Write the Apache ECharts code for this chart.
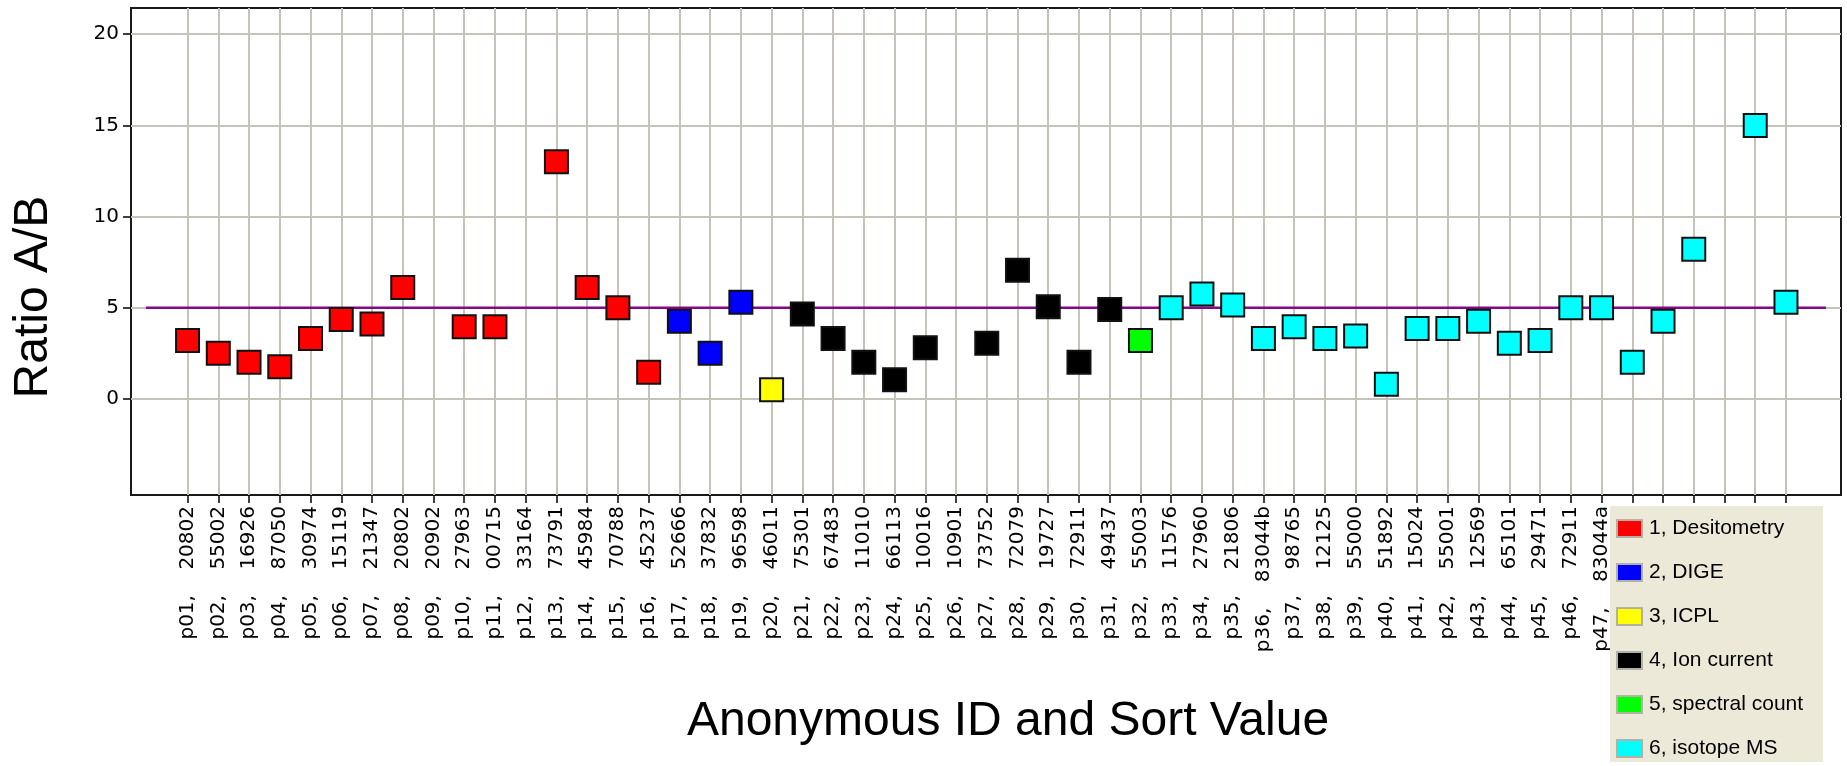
<!DOCTYPE html>
<html>
<head>
<meta charset="utf-8">
<script src="https://cdn.jsdelivr.net/npm/echarts@6/dist/echarts.min.js"></script>
<style>
  html, body { margin: 0; padding: 0; background: #fff; }
  #chart { width: 1847px; height: 766px; }
</style>
</head>
<body>
<div id="chart"></div>
<script>
// anonymous ids and their sort values (slots 48-53 have no visible label)
const ids = ['p01', 'p02', 'p03', 'p04', 'p05', 'p06', 'p07', 'p08', 'p09', 'p10',
  'p11', 'p12', 'p13', 'p14', 'p15', 'p16', 'p17', 'p18', 'p19', 'p20',
  'p21', 'p22', 'p23', 'p24', 'p25', 'p26', 'p27', 'p28', 'p29', 'p30',
  'p31', 'p32', 'p33', 'p34', 'p35', 'p36', 'p37', 'p38', 'p39', 'p40',
  'p41', 'p42', 'p43', 'p44', 'p45', 'p46', 'p47', '', '', '', '', '', '']
const sortValues = ['20802', '55002', '16926', '87050', '30974', '15119', '21347', '20802', '20902', '27963',
  '00715', '33164', '73791', '45984', '70788', '45237', '52666', '37832', '96598', '46011',
  '75301', '67483', '11010', '66113', '10016', '10901', '73752', '72079', '19727', '72911',
  '49437', '55003', '11576', '27960', '21806', '83044b', '98765', '12125', '55000', '51892',
  '15024', '55001', '12569', '65101', '29471', '72911', '83044a', '', '', '', '', '', '']

// ratio A/B per slot (null = no result)
const ratios = [3.2, 2.5, 2.0, 1.75, 3.3, 4.35, 4.1, 6.1, null, 3.95,
  3.95, null, 13.0, 6.1, 5.0, 1.45, 4.25, 2.5, 5.3, 0.5,
  4.65, 3.3, 2.0, 1.05, 2.8, null, 3.05, 7.05, 5.05, 2.0,
  4.9, 3.2, 5.0, 5.75, 5.15, 3.3, 3.95, 3.3, 3.45, 0.8,
  3.85, 3.85, 4.25, 3.05, 3.2, 5.0, 5.0, 2.0, 4.25, 8.2,
  null, 15.0, 5.3]
// method used for each slot (1..6)
const methodOf = [1, 1, 1, 1, 1, 1, 1, 1, 1, 1,
  1, 1, 1, 1, 1, 1, 2, 2, 2, 3,
  4, 4, 4, 4, 4, 4, 4, 4, 4, 4,
  4, 5, 6, 6, 6, 6, 6, 6, 6, 6,
  6, 6, 6, 6, 6, 6, 6, 6, 6, 6,
  6, 6, 6]

const methodNames = ['1, Desitometry', '2, DIGE', '3, ICPL', '4, Ion current', '5, spectral count', '6, isotope MS']
const methodColors = ['#ff0000', '#0000ff', '#ffff00', '#000000', '#00ff00', '#00ffff']

const yTicks = [0, 5, 10, 15, 20]
// reference line at ratio 5
const refLineX = [-0.35, 54.3]
const refLineY = 5

const slots = ids.map((_, i) => i + 1)
const catLabels = ids.map((id, i) => (id ? id + ',    ' + sortValues[i] : ''))

const myChart = echarts.init(document.getElementById('chart'), null, { renderer: 'canvas' })

const series = methodNames.map((name, m) => ({
  name: name,
  type: 'scatter',
  symbol: 'rect',
  symbolSize: 23,
  z: 3,
  silent: true,
  itemStyle: { color: methodColors[m], borderColor: '#111', borderWidth: 2, opacity: 1 },
  data: slots
    .filter((s, i) => ratios[i] != null && methodOf[i] === m + 1)
    .map((s) => [s, ratios[s - 1]]),
}))

series.push({
  name: 'ref',
  type: 'line',
  symbol: 'none',
  silent: true,
  z: 2,
  lineStyle: { color: '#860886', width: 2.5 },
  data: refLineX.map((x) => [x, refLineY]),
})

const option = {
  backgroundColor: '#fff',
  animation: false,
  grid: {
    left: 131,
    right: 6,
    top: 8,
    bottom: 271,
    show: true,
    borderColor: '#1a1a1a',
    borderWidth: 2,
    backgroundColor: '#fff',
    outerBoundsMode: 'none',
  },
  xAxis: {
    type: 'value',
    min: -0.84,
    max: 54.79,
    axisLine: { show: false, onZero: false },
    axisTick: {
      show: true,
      customValues: slots,
      length: 8,
      lineStyle: { color: '#000', width: 1.5 },
    },
    axisLabel: {
      customValues: slots,
      rotate: 90,
      margin: 11,
      fontFamily: 'DejaVu Sans',
      fontSize: 20,
      color: '#000',
      formatter: (v) => catLabels[Math.round(v) - 1] || '',
    },
    splitLine: { show: true, lineStyle: { color: '#c6c3ba', width: 2 } },
  },
  yAxis: {
    type: 'value',
    min: -5.28,
    max: 21.44,
    axisLine: { show: false, onZero: false },
    axisTick: {
      show: true,
      customValues: yTicks,
      length: 8,
      lineStyle: { color: '#000', width: 1.5 },
    },
    axisLabel: {
      customValues: yTicks,
      margin: 12,
      fontFamily: 'DejaVu Sans',
      fontSize: 20,
      color: '#000',
    },
    splitLine: { show: true, lineStyle: { color: '#c6c3ba', width: 2 } },
  },
  legend: {
    data: methodNames,
    orient: 'vertical',
    left: 1610,
    top: 506,
    height: 250,
    padding: [12, 20, 3, 6],
    itemWidth: 25,
    itemHeight: 17,
    itemGap: 23,
    icon: 'rect',
    selectedMode: false,
    backgroundColor: '#ece9d8',
    itemStyle: { borderColor: '#b3b0a6', borderWidth: 2 },
    textStyle: {
      fontFamily: 'Liberation Sans',
      fontSize: 21,
      lineHeight: 21,
      color: '#000',
      padding: [0, 0, 0, 2],
    },
  },
  graphic: [
    {
      type: 'text',
      x: 34,
      y: 297,
      rotation: Math.PI / 2,
      style: {
        text: 'Ratio A/B',
        font: '48px "Liberation Sans"',
        fill: '#000',
        align: 'center',
        verticalAlign: 'middle',
      },
    },
    {
      type: 'text',
      x: 1008,
      y: 722,
      style: {
        text: 'Anonymous ID and Sort Value',
        font: '48px "Liberation Sans"',
        fill: '#000',
        align: 'center',
        verticalAlign: 'middle',
      },
    },
  ],
  series: series,
}

myChart.setOption(option)
</script>
</body>
</html>
